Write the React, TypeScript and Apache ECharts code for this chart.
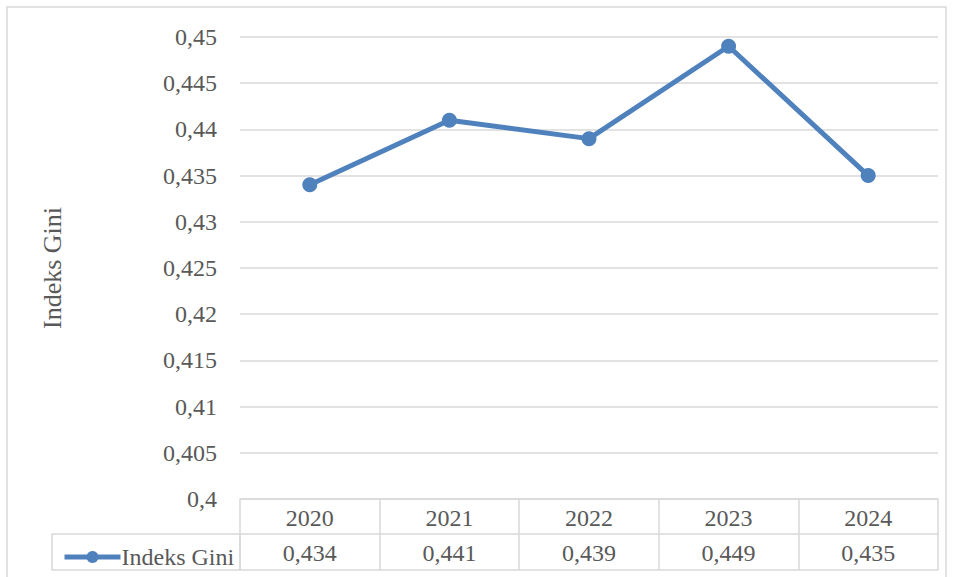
import React, { useEffect, useRef } from "react";
import * as echarts from "echarts";

const years = ["2020", "2021", "2022", "2023", "2024"];
const giniValues = [0.434, 0.441, 0.439, 0.449, 0.435];
const seriesName = "Indeks Gini";
const yMin = 0.4;
const yMax = 0.45;
const yStep = 0.005;

const FONT = "Liberation Serif";
const FS = 24;
const TXT = "#595959";
const GRID = "#d9d9d9";
const BLUE = "#4F81BD";

const fmt = (v: number) => String(parseFloat(v.toFixed(3))).replace(".", ",");

export default function App() {
  const ref = useRef<HTMLDivElement>(null);
  useEffect(() => {
    if (!ref.current) return;
    const chart = echarts.init(ref.current, undefined, { renderer: "svg" });
    const gridLeft = 240;
    const gridRight = 17;
    const gridTop = 37;
    const gridBottom = 78;
    chart.setOption({
      animation: false,
      backgroundColor: "#ffffff",
      textStyle: { fontFamily: FONT },
      grid: { left: gridLeft, right: gridRight, top: gridTop, bottom: gridBottom },
      legend: {
        left: 57,
        top: 540,
        itemWidth: 56,
        itemHeight: 15,
        itemGap: 0,
        textStyle: { fontFamily: FONT, fontSize: FS, color: TXT, padding: [0, 0, 0, -4] },
        data: [{ name: seriesName, itemStyle: { color: BLUE }, lineStyle: { color: BLUE, width: 5 } }],
      },
      xAxis: [
        {
          type: "category",
          data: years,
          position: "bottom",
          boundaryGap: true,
          axisLine: { show: true, lineStyle: { color: GRID, width: 1.5 } },
          axisTick: { show: true, interval: 0, length: 71, lineStyle: { color: GRID, width: 1.5 } },
          axisLabel: { margin: 7, fontSize: FS, color: TXT, fontFamily: FONT, interval: 0 },
        },
        {
          type: "category",
          data: years,
          position: "bottom",
          offset: 35,
          boundaryGap: true,
          axisLine: { show: true, lineStyle: { color: GRID, width: 1.5 } },
          axisTick: { show: false },
          axisLabel: {
            margin: 7,
            fontSize: FS,
            color: TXT,
            fontFamily: FONT,
            interval: 0,
            formatter: (_v: string, i: number) => fmt(giniValues[i]),
          },
        },
        {
          type: "category",
          data: years,
          position: "bottom",
          offset: 71,
          boundaryGap: true,
          axisLine: { show: true, lineStyle: { color: GRID, width: 1.5 } },
          axisTick: { show: false },
          axisLabel: { show: false },
        },
      ],
      yAxis: {
        type: "value",
        min: yMin,
        max: yMax,
        interval: yStep,
        name: "Indeks Gini",
        nameLocation: "middle",
        nameRotate: 90,
        nameGap: 175,
        nameTextStyle: { fontSize: 26, color: TXT, fontFamily: FONT },
        axisLine: { show: false },
        axisTick: { show: false },
        axisLabel: { margin: 23, fontSize: FS, color: TXT, fontFamily: FONT, formatter: (v: number) => fmt(v) },
        splitLine: { show: true, lineStyle: { color: GRID, width: 1.5 } },
      },
      graphic: [
        {
          type: "rect",
          shape: { x: 7, y: 7, width: 939, height: 580 },
          style: { fill: "none", stroke: GRID, lineWidth: 1.5 },
          silent: true,
        },
        {
          type: "rect",
          shape: { x: 52, y: 534, width: gridLeft - 52, height: 36 },
          style: { fill: "none", stroke: GRID, lineWidth: 1.5 },
          silent: true,
        },
      ],
      series: [
        {
          name: seriesName,
          type: "line",
          data: giniValues,
          xAxisIndex: 0,
          symbol: "circle",
          symbolSize: 15,
          lineStyle: { color: BLUE, width: 5 },
          itemStyle: { color: BLUE },
        },
      ],
    });
    return () => chart.dispose();
  }, []);
  return (
    <div
      ref={ref}
      style={{ position: "fixed", left: 0, top: 0, width: 955, height: 577, background: "#fff" }}
    />
  );
}
